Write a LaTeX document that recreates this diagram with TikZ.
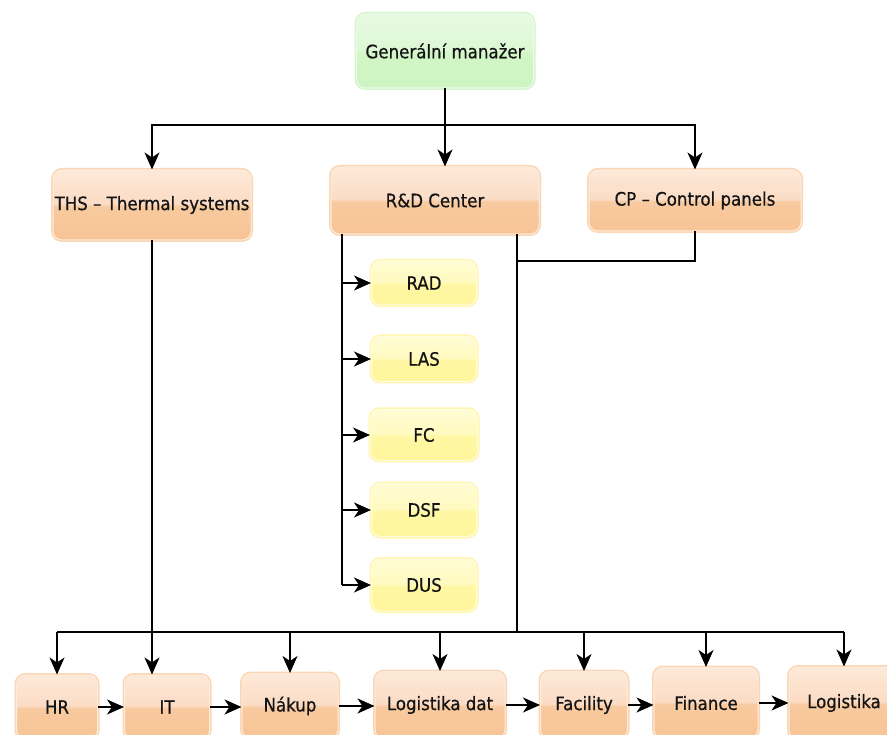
\documentclass[tikz,border=0pt]{standalone}
\usepackage{fontspec}
\setmainfont{DejaVu Sans}
\newfontfamily\boxfont{DejaVu Sans Condensed}[FakeBold=0.6]
\usetikzlibrary{arrows.meta,calc}

% box colours
\definecolor{orTop}{HTML}{FDE9D8}
\definecolor{orUp}{HTML}{FBDCC5}
\definecolor{orLow}{HTML}{F8CA9F}
\definecolor{orBot}{HTML}{F7C495}
\definecolor{orGlow}{HTML}{FAD6B4}
\definecolor{orEdge}{HTML}{FDEBDC}
\definecolor{grTop}{HTML}{E8FAE2}
\definecolor{grUp}{HTML}{DDF8D4}
\definecolor{grLow}{HTML}{D2F6C7}
\definecolor{grBot}{HTML}{CDF4C1}
\definecolor{grGlow}{HTML}{D6F5CC}
\definecolor{grEdge}{HTML}{EEFBEA}
\definecolor{yeTop}{HTML}{FFFCD4}
\definecolor{yeUp}{HTML}{FFFABF}
\definecolor{yeLow}{HTML}{FFF7A4}
\definecolor{yeBot}{HTML}{FFF59B}
\definecolor{yeGlow}{HTML}{FFF6AE}
\definecolor{yeEdge}{HTML}{FFFDE2}
\definecolor{txt}{HTML}{141414}

% glossy vertical fills (0bp = bottom, box spans 25bp..75bp)
\pgfdeclareverticalshading{orangefill}{100bp}{color(0bp)=(orBot); color(25bp)=(orBot); color(49bp)=(orLow); color(51bp)=(orUp); color(75bp)=(orTop); color(100bp)=(orTop)}
\pgfdeclareverticalshading{greenfill}{100bp}{color(0bp)=(grBot); color(25bp)=(grBot); color(49bp)=(grLow); color(51bp)=(grUp); color(75bp)=(grTop); color(100bp)=(grTop)}
\pgfdeclareverticalshading{yellowfill}{100bp}{color(0bp)=(yeBot); color(25bp)=(yeBot); color(49bp)=(yeLow); color(51bp)=(yeUp); color(75bp)=(yeTop); color(100bp)=(yeTop)}

\tikzset{
  box/.style={rounded corners=9pt, inner sep=0pt, align=center, text=txt,
    font=\boxfont\fontsize{18.5}{21}\selectfont, line width=1pt},
  obox/.style={box, shading=orangefill, draw=orEdge, preaction={draw=orGlow, line width=4pt}},
  gbox/.style={box, shading=greenfill, draw=grEdge, preaction={draw=grGlow, line width=4pt}},
  ybox/.style={box, shading=yellowfill, draw=yeEdge, preaction={draw=yeGlow, line width=4pt}},
  conn/.style={line width=1.5pt, black},
  arr/.style={conn, -{Stealth[length=17pt, width=15pt, inset=5pt]}},
}

\begin{document}
\begin{tikzpicture}[x=1pt, y=-1pt]
\useasboundingbox (0,0) rectangle (887,735);
\clip (0,0) rectangle (887,735);
\fill[white] (0,0) rectangle (887,735);

% top level
\node[gbox, minimum width=177pt, minimum height=74pt] (gm) at (445,51) {Generální manažer};

% divisions
\node[obox, minimum width=198pt, minimum height=70pt] (ths) at (152,205) {THS – Thermal systems};
\node[obox, minimum width=208pt, minimum height=67pt] (rd) at (435,200.5) {R\&D Center};
\node[obox, minimum width=212pt, minimum height=61pt] (cp) at (695,200.5) {CP – Control panels};

% R&D teams
\node[ybox, minimum width=105pt, minimum height=44pt] (rad) at (424,283) {RAD};
\node[ybox, minimum width=105pt, minimum height=45pt] (las) at (424,359) {LAS};
\node[ybox, minimum width=107pt, minimum height=51pt] (fc) at (424,435) {FC};
\node[ybox, minimum width=105pt, minimum height=53pt] (dsf) at (424,510) {DSF};
\node[ybox, minimum width=105pt, minimum height=52pt] (dus) at (424,585) {DUS};

% shared services
\node[obox, minimum width=81pt, minimum height=64pt] (hr) at (57,707) {HR};
\node[obox, minimum width=85pt, minimum height=64pt] (it) at (167,707) {IT};
\node[obox, minimum width=96pt, minimum height=65pt] (nak) at (290,706) {Nákup};
\node[obox, minimum width=130pt, minimum height=67pt] (ldat) at (440,705) {Logistika dat};
\node[obox, minimum width=87pt, minimum height=67pt] (fac) at (584,705) {Facility};
\node[obox, minimum width=104pt, minimum height=71pt] (fin) at (706,703) {Finance};
\node[obox, minimum width=110pt, minimum height=72pt] (log) at (844,703) {Logistika};

% junction levels
\coordinate (topbar) at (0,125);
\coordinate (cpj) at (0,261);
\coordinate (botbar) at (0,632);
\coordinate (rl) at (342,0);
\coordinate (rr) at (517,0);

% general manager to divisions
\draw[arr] (gm.south) -- (gm.south |- topbar) -| (ths.north);
\draw[arr] (gm.south |- topbar) -- (gm.south |- rd.north);
\draw[arr] (gm.south |- topbar) -| (cp.north);

% R&D spine with teams
\draw[conn] (rd.south -| rl) -- (dus.west -| rl);
\foreach \t in {rad,las,fc,dsf,dus}
  \draw[arr] (\t.west -| rl) -- (\t.west);

% R&D and CP feed the shared services bar
\draw[conn] (rd.south -| rr) -- (rr |- botbar);
\draw[conn] (cp.south) -- (cp.south |- cpj) -- (rr |- cpj);
\draw[conn] (hr.north |- botbar) -- (log.north |- botbar);
\foreach \t in {hr,nak,ldat,fac,fin,log}
  \draw[arr] (\t.north |- botbar) -- (\t.north);

% THS straight down to IT
\draw[arr] (ths.south) -- (ths.south |- it.north);

% chain along the bottom row
\draw[arr] (hr.east) -- (hr.east -| it.west);
\draw[arr] (it.east) -- (it.east -| nak.west);
\draw[arr] (nak.east) -- (nak.east -| ldat.west);
\draw[arr] (ldat.east) -- (ldat.east -| fac.west);
\draw[arr] (fac.east) -- (fac.east -| fin.west);
\draw[arr] (fin.east) -- (fin.east -| log.west);
\end{tikzpicture}
\end{document}
